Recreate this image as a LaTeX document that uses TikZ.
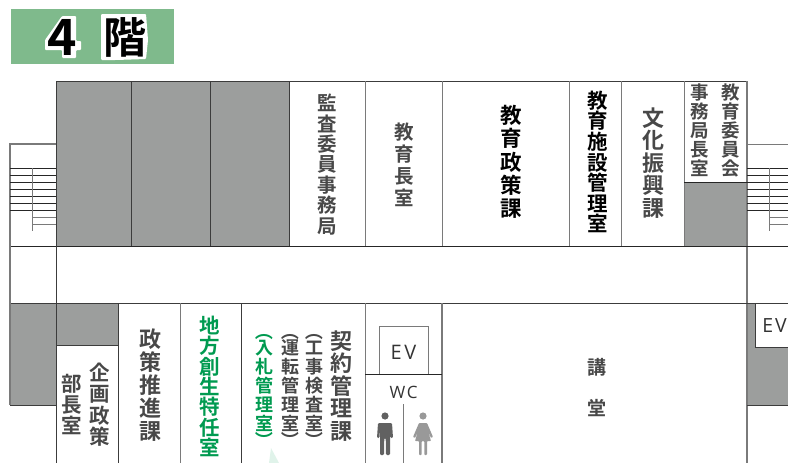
\documentclass[tikz,border=0pt]{standalone}
\usepackage{fontspec}
\usepackage{graphicx}
\setmainfont{Noto Sans CJK JP}
\newfontfamily\latinfont{Open Sans}
\newfontfamily\heavyfont{Noto Sans CJK JP Bold}
\definecolor{wallgray}{HTML}{9C9E9D}
\definecolor{linedark}{HTML}{3C3C3C}
\definecolor{linemid}{HTML}{7A7A7A}
\definecolor{txtdark}{HTML}{484848}
\definecolor{txtgreen}{HTML}{009A50}
\definecolor{titlegreen}{HTML}{7FBA8C}
\newcommand{\vparenL}{\rotatebox[origin=c]{-90}{（}}
\newcommand{\vparenR}{\rotatebox[origin=c]{-90}{）}}
\tikzset{
  x=1pt,y=-1pt,
  wall/.style={draw=linedark,line width=0.9pt},
  midwall/.style={draw=linemid,line width=1.2pt},
  hline/.style={draw=black!85,line width=0.9pt},
  stairline/.style={draw=black!85,line width=0.8pt},
  shade/.style={fill=wallgray},
  vlabel/.style 2 args={inner sep=0pt,align=center,text=txtdark,font=\heavyfont\fontsize{#1pt}{#2pt}\selectfont},
  vbold/.style 2 args={inner sep=0pt,align=center,text=black,font=\heavyfont\fontsize{#1pt}{#2pt}\selectfont},
  vgreen/.style 2 args={inner sep=0pt,align=center,text=txtgreen,font=\heavyfont\fontsize{#1pt}{#2pt}\selectfont}
}
\begin{document}
\begin{tikzpicture}
\useasboundingbox (0,0) rectangle (788,463);
% title
\fill[titlegreen] (11,9) rectangle (174,64);
\fill[white,rounded corners=1pt] (62,16) -- (76,16) -- (76,41) -- (81,41) -- (81,50) -- (76,50) -- (76,58) -- (62,58) -- (62,50) -- (45,50) -- (45,40) -- cycle;
\fill[white,rounded corners=1pt] (101,14) -- (146,14) -- (148,40) -- (146,59) -- (116,60) -- (101,60) -- cycle;
\node[inner sep=0pt,font={\heavyfont\fontsize{50pt}{50pt}\selectfont}] (titlefour) at (62.5,37) {4};
\node[inner sep=0pt,font={\heavyfont\fontsize{43pt}{43pt}\selectfont}] (titlekai) at (124.5,37) {階};
% shaded areas
\fill[shade] (56,81) rectangle (289,246);
\fill[shade] (684,182) rectangle (747,246);
\fill[shade] (10,303) rectangle (56,405);
\fill[shade] (56,303) rectangle (118,345);
\fill[shade] (747,303) rectangle (788,405);
\fill[white] (755,303) rectangle (788,347);
% green hint
\fill[txtgreen!12] (271,448) -- (279,463) -- (269,463) -- cycle;
% top row
\draw[wall] (56,246) -- (56,81) -- (747,81);
\draw[midwall] (747,81) -- (747,463);
\foreach \cx in {131.5,210,289} \draw[wall] (\cx,81) -- (\cx,246);
\foreach \cx in {365,442,569,621,684} \draw[midwall,line width=1pt] (\cx,81) -- (\cx,246);
\draw[hline] (684,182) -- (747,182);
% corridor
\draw[hline] (10,246.5) -- (788,246.5);
\draw[wall] (10,303) -- (788,303);
\draw[wall] (56,246) -- (56,463);
% left stairs
\draw[midwall] (56,144) -- (10,144) -- (10,405);
\foreach \sy in {168.3,175.3,182.3,189.3,196.3,203.3,210.3} \draw[stairline] (10,\sy) -- (56,\sy);
\foreach \sy in {217.7,224.7} \draw[stairline,draw=linemid] (32.5,\sy) -- (56,\sy);
\draw[stairline,draw=linemid,line width=1pt] (32.5,168.3) -- (32.5,231);
% right stairs
\draw[midwall,line width=1pt] (747,144) -- (788,144);
\foreach \sy in {168.3,175.3,182.3,189.3,196.3,203.3,210.3} \draw[stairline] (747,\sy) -- (788,\sy);
\foreach \sy in {217.7,224.7} \draw[stairline,draw=linemid] (769.5,\sy) -- (788,\sy);
\draw[stairline,draw=linemid,line width=1pt] (769.5,168.3) -- (769.5,231);
% lower row
\draw[wall] (10,405) -- (56,405);
\draw[wall] (56,345) -- (118,345);
\draw[wall] (747,405) -- (788,405);
\draw[wall] (755,303) -- (755,347) -- (788,347);
\foreach \cx in {118,241} \draw[wall,line width=0.8pt] (\cx,303) -- (\cx,463);
\draw[midwall] (180.5,303) -- (180.5,463);
\draw[wall,line width=0.9pt,draw=linemid] (365,303) -- (365,463);
\draw[midwall] (442,303) -- (442,463);
% EV box
\draw[midwall,line width=0.9pt] (379.5,374) -- (379.5,326.5) -- (428,326.5) -- (428,374);
\draw[hline] (365,374.5) -- (442,374.5);
\draw[linemid,line width=0.9pt] (403.5,404) -- (403.5,463);
\node[inner sep=0pt,text=black!80,font={\latinfont\fontsize{20pt}{20pt}\selectfont}] (evone) at (403.5,352) {E\kern2.5pt V};
\node[inner sep=0pt,text=black!80,font={\latinfont\fontsize{17pt}{17pt}\selectfont}] (wc) at (403.5,392) {W\kern1.5pt C};
\node[inner sep=0pt,text=black!80,font={\latinfont\fontsize{19.5pt}{19.5pt}\selectfont}] (evtwo) at (774.5,326) {E\kern2pt V};
% man
\fill[black!62] (385,416) circle (3.6);
\fill[black!62,rounded corners=1.2pt] (378,423) -- (392,423) -- (393,438) -- (390.5,438) -- (390,428) -- (390,455) -- (386,455) -- (385.7,438) -- (384.3,438) -- (384,455) -- (380,455) -- (380,428) -- (379.5,438) -- (377,438) -- cycle;
% woman
\fill[black!40] (423,416) circle (3.6);
\fill[black!40,rounded corners=0.8pt] (419,423) -- (427,423) -- (433,437) -- (431,438) -- (428,431) -- (431,441) -- (427,441) -- (427,455) -- (424.3,455) -- (424.3,441) -- (421.7,441) -- (421.7,455) -- (419,455) -- (419,441) -- (415,441) -- (418,431) -- (415,438) -- (413,437) -- cycle;
% labels top
\node[vlabel={19.5}{20.4}] (kansa) at (327,164.5) {監\\査\\委\\員\\事\\務\\局};
\node[vlabel={19.5}{22}] (kyoikucho) at (404,164.5) {教\\育\\長\\室};
\node[vbold={21.5}{23.3}] (seisaku) at (511,162) {教\\育\\政\\策\\課};
\node[vbold={20.5}{20.6}] (shisetsu) at (598,162) {教\\育\\施\\設\\管\\理\\室};
\node[vlabel={22}{22.6}] (bunka) at (653,163) {文\\化\\振\\興\\課};
\node[vlabel={18.5}{19}] (iinkai) at (731,130.5) {教\\育\\委\\員\\会};
\node[vlabel={18.5}{19}] (jimukyoku) at (700,130.5) {事\\務\\局\\長\\室};
% labels bottom
\node[vlabel={20.5}{21.4}] (kikaku) at (99.5,404.5) {企\\画\\政\\策};
\node[vlabel={20.5}{21}] (bucho) at (72,404.5) {部\\長\\室};
\node[vlabel={22}{23}] (suishin) at (150,385) {政\\策\\推\\進\\課};
\node[vgreen={20.5}{20.3}] (tokunin) at (210,386.5) {地\\方\\創\\生\\特\\任\\室};
\node[vgreen={18}{19}] (nyusatsu) at (264,385.5) {\vparenL\\[-2.5pt]入\\札\\管\\理\\室\\[-2.5pt]\vparenR};
\node[vlabel={18}{19}] (unten) at (290,385.5) {\vparenL\\[-2.5pt]運\\転\\管\\理\\室\\[-2.5pt]\vparenR};
\node[vlabel={18}{19}] (koji) at (314,385.5) {\vparenL\\[-2.5pt]工\\事\\検\\査\\室\\[-2.5pt]\vparenR};
\node[vlabel={22}{22.6}] (keiyaku) at (341,386) {契\\約\\管\\理\\課};
\node[vlabel={19}{19}] (ko) at (597,367) {講};
\node[vlabel={19}{19}] (do) at (597,408) {堂};
\end{tikzpicture}
\end{document}
